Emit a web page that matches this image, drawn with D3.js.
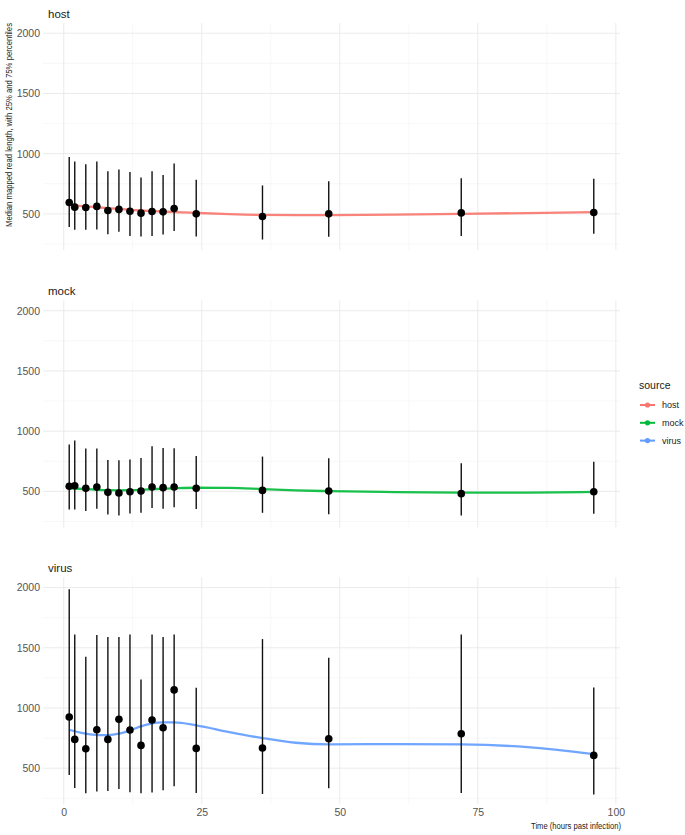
<!DOCTYPE html>
<html><head><meta charset="utf-8">
<script src="https://cdn.jsdelivr.net/npm/d3@7"></script>
<style>body{margin:0;background:#fff}svg{display:block;font-family:"Liberation Sans",Arial,sans-serif}</style>
</head><body>
<script>
const sources = ["host", "mock", "virus"];
const sourceColors = ["#F8766D", "#00BA38", "#619CFF"];
const times = [1, 2, 4, 6, 8, 10, 12, 14, 16, 18, 20, 24, 36, 48, 72, 96];
const hostMedian = [595, 556, 553, 562, 528, 537, 522, 506, 520, 517, 545, 500, 478, 500, 508, 511];
const hostQ25 = [390, 368, 368, 371, 331, 351, 317, 312, 317, 329, 357, 312, 287, 309, 317, 334];
const hostQ75 = [972, 935, 913, 935, 854, 868, 848, 803, 854, 823, 918, 784, 736, 770, 795, 792];
const mockMedian = [542, 547, 525, 536, 492, 486, 497, 503, 536, 531, 536, 525, 508, 503, 481, 497];
const mockQ25 = [350, 350, 336, 356, 308, 300, 317, 322, 361, 356, 369, 353, 322, 311, 300, 314];
const mockQ75 = [889, 922, 856, 856, 761, 758, 764, 778, 875, 861, 858, 794, 789, 775, 733, 747];
const virusMedian = [925, 739, 661, 819, 739, 906, 817, 689, 900, 836, 1150, 664, 667, 744, 786, 606];
const virusQ25 = [444, 336, 292, 306, 311, 328, 300, 292, 297, 317, 350, 294, 286, 333, 294, 281];
const virusQ75 = [1986, 1611, 1425, 1606, 1589, 1589, 1611, 1236, 1611, 1589, 1611, 1167, 1572, 1417, 1611, 1169];
const smoothTimes = [1, 4, 6, 8, 10, 12, 14, 16, 18, 20, 24, 30, 36, 42, 48, 60, 72, 84, 96];
const hostSmooth = [575, 562, 555, 548, 541, 534, 528, 523, 519, 515, 508, 498, 491, 489, 490, 493, 500, 507, 514];
const mockSmooth = [528, 518, 513, 510, 509, 510, 513, 518, 523, 526, 530, 529, 519, 508, 502, 494, 490, 490, 495];
const virusSmooth = [819, 786, 775, 775, 786, 814, 847, 872, 880, 880, 856, 800, 750, 711, 697, 700, 697, 675, 617];
const xTicks = [0, 25, 50, 75, 100];
const yTicks = [500, 1000, 1500, 2000];

const series = {
  host: {med: hostMedian, lo: hostQ25, hi: hostQ75, sm: hostSmooth},
  mock: {med: mockMedian, lo: mockQ25, hi: mockQ75, sm: mockSmooth},
  virus: {med: virusMedian, lo: virusQ25, hi: virusQ75, sm: virusSmooth}
};
const color = d3.scaleOrdinal(sources, sourceColors);
const FONT = '"Liberation Sans",Arial,sans-serif';

const W = 685, H = 835;
const svg = d3.select("body").append("svg").attr("width", W).attr("height", H);
const x = d3.scaleLinear().domain([-3.75, 100.75]).range([43, 620]);
const panelTops = [23, 300.5, 577.3];
const panelH = 227;

sources.forEach((s, i) => {
  const top = panelTops[i];
  const y = d3.scaleLinear().domain([200, 2085]).range([top + panelH, top]);
  const g = svg.append("g");
  [250, 750, 1250, 1750].forEach(v => g.append("line").attr("x1", 43).attr("x2", 620).attr("y1", y(v)).attr("y2", y(v)).attr("stroke", "#f1f1f1").attr("stroke-width", 0.6));
  [12.5, 37.5, 62.5, 87.5].forEach(v => g.append("line").attr("x1", x(v)).attr("x2", x(v)).attr("y1", top).attr("y2", top + panelH).attr("stroke", "#f1f1f1").attr("stroke-width", 0.6));
  yTicks.forEach(v => g.append("line").attr("x1", 43).attr("x2", 620).attr("y1", y(v)).attr("y2", y(v)).attr("stroke", "#e6e6e6").attr("stroke-width", 0.8));
  xTicks.forEach(v => g.append("line").attr("x1", x(v)).attr("x2", x(v)).attr("y1", top).attr("y2", top + panelH).attr("stroke", "#e6e6e6").attr("stroke-width", 0.8));
  const ax = g.append("g").attr("transform", "translate(43,0)").call(d3.axisLeft(y).tickValues(yTicks).tickFormat(d3.format("d")).tickSize(0).tickPadding(3));
  ax.select(".domain").remove();
  ax.selectAll("text").attr("fill", "#555").attr("font-size", 10.5).attr("font-family", FONT);
  g.append("text").attr("x", 48).attr("y", top - 5.5).attr("font-size", 11.5).attr("fill", "#1a1a1a").text(s);

  const d = series[s];
  const line = d3.line().x((t) => x(t)).y((t, j) => y(d.sm[j])).curve(d3.curveMonotoneX);
  g.append("path").attr("d", line(smoothTimes)).attr("fill", "none").attr("stroke", color(s)).attr("stroke-width", 2.3).attr("stroke-opacity", 0.9);
  times.forEach((t, j) => {
    g.append("line").attr("x1", x(t)).attr("x2", x(t)).attr("y1", y(d.lo[j])).attr("y2", y(d.hi[j])).attr("stroke", "#111").attr("stroke-width", 1.4);
  });
  times.forEach((t, j) => {
    g.append("circle").attr("cx", x(t)).attr("cy", y(d.med[j])).attr("r", 3.8).attr("fill", "#000");
  });
});

const xa = svg.append("g").attr("transform", `translate(0,${panelTops[2] + panelH})`).call(d3.axisBottom(x).tickValues(xTicks).tickSize(0).tickPadding(4));
xa.select(".domain").remove();
xa.selectAll("text").attr("fill", "#555").attr("font-size", 10.5).attr("font-family", FONT);

svg.append("text").attr("x", 621).attr("y", 829).attr("text-anchor", "end").attr("font-size", 8.5).attr("fill", "#1a1a1a")
  .attr("textLength", 90).attr("lengthAdjust", "spacingAndGlyphs").text("Time (hours past infection)");
svg.append("text").attr("transform", "translate(12,125) rotate(-90)").attr("text-anchor", "middle").attr("font-size", 8.5).attr("fill", "#1a1a1a")
  .attr("textLength", 204).attr("lengthAdjust", "spacingAndGlyphs").text("Median mapped read length, with 25% and 75% percentiles");

const lg = svg.append("g");
lg.append("text").attr("x", 639).attr("y", 389).attr("font-size", 10.5).attr("fill", "#1a1a1a").text("source");
sources.forEach((s, i) => {
  const yy = 405 + i * 17.8;
  lg.append("line").attr("x1", 640).attr("x2", 655).attr("y1", yy).attr("y2", yy).attr("stroke", color(s)).attr("stroke-width", 2);
  lg.append("circle").attr("cx", 647.5).attr("cy", yy).attr("r", 2.6).attr("fill", color(s));
  lg.append("text").attr("x", 662).attr("y", yy + 3.2).attr("font-size", 9).attr("fill", "#1a1a1a").text(s);
});
</script>
</body></html>
